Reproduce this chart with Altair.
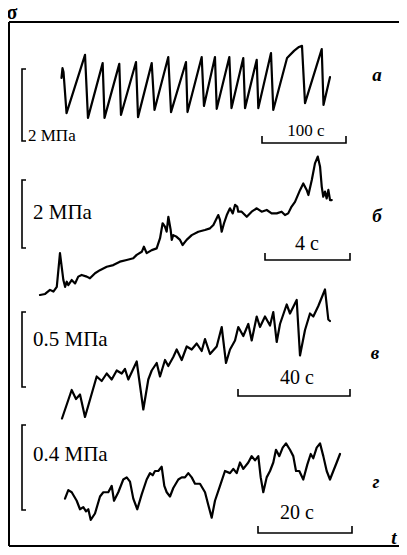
import altair as alt
import pandas as pd

# ---------------- data (t in seconds from trace start, sigma in MPa above trace minimum) ----------------
# trace "а" (sawtooth, 100 s scale)
t_a = [0, 1.2, 2.4, 6.0, 28.0, 31.5, 49.0, 51.2, 68.8, 70.8, 88.7, 91.1, 107.4, 110.7, 127.1, 130.4,
       148.2, 150.0, 166.9, 169.6, 182.7, 184.8, 199.8, 202.4, 216.4, 218.5, 232.4, 234.3, 249.4, 252.1,
       268.5, 276.8, 282.7, 286.3, 289.9, 309.8, 311.9, 319.6]
s_a = [1.17, 1.44, 1.33, 0.19, 1.81, 0.06, 1.58, 0.06, 1.56, 0.14, 1.61, 0.08, 1.58, 0.28, 1.75, 0.22,
       1.61, 0.22, 1.75, 0.39, 1.75, 0.31, 1.75, 0.33, 1.72, 0.33, 1.67, 0.33, 1.86, 0.28,
       1.72, 1.92, 2.03, 2.06, 0.47, 1.97, 0.42, 1.19]

# trace "б" (4 s scale)
t_b = [0, 0.24, 0.47, 0.63, 0.79, 0.94, 1.10, 1.18, 1.26, 1.33, 1.49, 1.65, 1.80, 1.96, 2.20, 2.35,
       2.59, 2.82, 3.14, 3.45, 3.76, 4.08, 4.39, 4.55, 4.79, 4.89, 5.02, 5.26, 5.49, 5.65, 5.77, 5.88,
       5.96, 6.04, 6.15, 6.20, 6.27, 6.43, 6.59, 6.71, 6.90, 7.14, 7.45, 7.76, 8.00, 8.16, 8.28, 8.39,
       8.47, 8.55, 8.66, 8.79, 8.94, 9.07, 9.18, 9.28, 9.33, 9.49, 9.73, 9.96, 10.20, 10.43, 10.67,
       10.90, 11.14, 11.37, 11.53, 11.68, 11.84, 12.00, 12.24, 12.39, 12.55, 12.63, 12.79, 12.94, 13.07,
       13.18, 13.26, 13.33, 13.41, 13.49, 13.57, 13.65, 13.73]
s_b = [0.03, 0.06, 0.18, 0.13, 0.27, 1.26, 0.47, 0.27, 0.42, 0.32, 0.47, 0.37, 0.57, 0.62, 0.57, 0.52,
       0.67, 0.76, 0.86, 0.91, 1.01, 1.06, 1.11, 1.21, 1.30, 1.45, 1.26, 1.35, 1.40, 1.70, 2.14, 2.04,
       1.89, 2.33, 1.94, 1.65, 1.79, 1.74, 1.65, 1.50, 1.65, 1.79, 1.89, 1.94, 1.99, 2.09, 2.24, 2.38,
       2.24, 1.89, 2.14, 2.38, 2.58, 2.43, 2.68, 2.63, 2.48, 2.48, 2.33, 2.48, 2.58, 2.48, 2.53,
       2.43, 2.43, 2.48, 2.38, 2.43, 2.63, 2.77, 3.12, 3.31, 3.12, 2.97, 3.41, 3.90, 4.10,
       3.80, 3.21, 2.92, 3.07, 2.87, 3.12, 2.82, 2.82]

# trace "в" (40 s scale)
t_v = [0, 3.46, 5.0, 6.43, 8.21, 12.39, 14.18, 15.96, 17.75, 19.54, 21.32, 22.5, 23.68, 26.68, 29.04,
       30.82, 32.04, 33.82, 35.0, 36.79, 37.96, 39.75, 40.96, 42.75, 44.54, 46.32, 48.11, 49.89, 51.07,
       52.86, 55.25, 57.04, 58.57, 60.0, 61.79, 62.96, 64.75, 66.54, 67.75, 69.54, 70.71, 72.5, 74.29,
       75.46, 76.68, 77.86, 80.25, 81.43, 83.82, 85.0, 86.79, 88.57, 89.75, 91.54, 93.93, 95.11, 95.71]
s_v = [0.01, 0.20, 0.14, 0.17, 0.02, 0.29, 0.26, 0.31, 0.27, 0.33, 0.31, 0.34, 0.27, 0.39, 0.07,
       0.27, 0.33, 0.38, 0.29, 0.40, 0.36, 0.42, 0.47, 0.40, 0.49, 0.47, 0.51, 0.46, 0.54,
       0.44, 0.49, 0.62, 0.38, 0.47, 0.53, 0.62, 0.56, 0.64, 0.53, 0.69, 0.62, 0.69, 0.63,
       0.72, 0.52, 0.64, 0.77, 0.71, 0.80, 0.43, 0.60, 0.71, 0.69, 0.76, 0.87, 0.67, 0.66]

# trace "г" (20 s scale)
t_g = [0, 0.70, 1.43, 2.49, 3.19, 3.89, 4.47, 4.96, 5.47, 6.38, 7.45, 8.15, 9.21, 9.94, 10.43, 11.34,
       12.40, 13.13, 13.83, 14.53, 15.38, 16.32, 17.38, 18.09, 18.66, 19.15, 19.85, 20.57, 21.13, 21.64,
       22.34, 23.04, 24.11, 24.83, 25.53, 26.23, 26.96, 27.66, 28.72, 29.79, 30.49, 31.21, 31.91, 32.98,
       34.04, 35.11, 35.81, 36.53, 37.23, 37.94, 39.0, 39.72, 40.43, 41.13, 41.64, 42.19, 42.91, 43.62,
       44.32, 44.89, 45.6, 46.32, 47.02, 47.87, 48.57, 49.15, 49.85, 50.70, 51.55, 52.28, 52.83, 53.55,
       54.26, 54.96, 55.68, 56.38, 57.09, 57.81, 58.51]
s_g = [0.11, 0.15, 0.14, 0.10, 0.06, 0.07, 0.05, 0.06, 0.01, 0.04, 0.12, 0.14, 0.14, 0.17, 0.10, 0.14,
       0.20, 0.21, 0.19, 0.11, 0.06, 0.13, 0.20, 0.23, 0.22, 0.24, 0.24, 0.26, 0.17, 0.14,
       0.12, 0.16, 0.20, 0.21, 0.21, 0.23, 0.21, 0.18, 0.18, 0.14, 0.08, 0.02, 0.10, 0.17,
       0.24, 0.23, 0.25, 0.23, 0.28, 0.25, 0.28, 0.31, 0.29, 0.31, 0.21, 0.14, 0.21, 0.24,
       0.28, 0.34, 0.31, 0.35, 0.37, 0.34, 0.31, 0.24, 0.24, 0.20, 0.27, 0.32, 0.30, 0.35,
       0.37, 0.31, 0.24, 0.20, 0.24, 0.28, 0.32]

panel_letters = ["а", "б", "в", "г"]
stress_labels = ["2 МПа", "2 МПа", "0.5 МПа", "0.4 МПа"]
stress_bars = [2, 2, 0.5, 0.4]          # MPa
time_labels = ["100 с", "4 с", "40 с", "20 с"]
time_bars = [100, 4, 40, 20]            # s

# ---------------- layout (figure pixel frame; drawable page area is 8..399 x 8..547) ----------------
W = 399 - 8
H = 547 - 8
xs = alt.Scale(domain=[8, 399], nice=False, zero=False)
ys = alt.Scale(domain=[8, 547], nice=False, zero=False, reverse=True)

# per panel: x origin, px per s, y baseline, px per MPa, and annotation placement
panels = [
    dict(x0=61.5, kx=0.84, yb=120, ky=36, t=t_a, s=s_a, bar_x=262, bar_y=143, br_y=141,
         lab_fs=17, lab_x=28, lab_y=136, tl_x=306, tl_y=131, tl_fs=17, let_x=377, let_y=75),
    dict(x0=40, kx=21.25, yb=296, ky=34, t=t_b, s=s_b, bar_x=265, bar_y=260, br_y=248,
         lab_fs=21, lab_x=33, lab_y=213, tl_x=307, tl_y=244, tl_fs=20, let_x=377, let_y=216),
    dict(x0=62, kx=2.8, yb=420, ky=150, t=t_v, s=s_v, bar_x=238, bar_y=396, br_y=387,
         lab_fs=21, lab_x=33, lab_y=340, tl_x=297, tl_y=378, tl_fs=20, let_x=375, let_y=353),
    dict(x0=65, kx=4.7, yb=522, ky=212.5, t=t_g, s=s_g, bar_x=258, bar_y=533, br_y=510,
         lab_fs=21, lab_x=33, lab_y=455, tl_x=297, tl_y=513, tl_fs=20, let_x=376, let_y=482),
]


def enc_xy(**extra):
    return dict(x=alt.X("fx:Q", scale=xs, axis=None), y=alt.Y("fy:Q", scale=ys, axis=None), **extra)


layers = []

# frame (left, top, bottom)
frame = pd.DataFrame({"fx": [9, 9, 9], "fy": [22, 22, 546], "fx2": [9, 399, 399], "fy2": [546, 22, 546]})
layers.append(
    alt.Chart(frame).mark_rule(color="black", strokeWidth=2).encode(
        x=alt.X("fx:Q", scale=xs, axis=None), y=alt.Y("fy:Q", scale=ys, axis=None), x2="fx2:Q", y2="fy2:Q"
    )
)

for k, p in enumerate(panels):
    df = pd.DataFrame({"t": p["t"], "s": p["s"], "i": range(len(p["t"]))})
    layers.append(
        alt.Chart(df)
        .transform_calculate(fx=f"{p['x0']} + datum.t * {p['kx']}", fy=f"{p['yb']} - datum.s * {p['ky']}")
        .mark_line(color="black", strokeWidth=2.2, strokeJoin="round", strokeCap="round")
        .encode(**enc_xy(order="i:Q"))
    )
    # time scale bar |____|
    L = time_bars[k] * p["kx"]
    bx, by = p["bar_x"], p["bar_y"]
    tb = pd.DataFrame({"fx": [bx, bx, bx + L, bx + L], "fy": [by - 7, by, by, by - 7], "i": [0, 1, 2, 3]})
    layers.append(alt.Chart(tb).mark_line(color="black", strokeWidth=1.6).encode(**enc_xy(order="i:Q")))
    # stress scale bracket [
    Hs = stress_bars[k] * p["ky"]
    ry = p["br_y"]
    sb = pd.DataFrame({"fx": [26, 22, 22, 26], "fy": [ry - Hs, ry - Hs, ry, ry], "i": [0, 1, 2, 3]})
    layers.append(alt.Chart(sb).mark_line(color="black", strokeWidth=1.6).encode(**enc_xy(order="i:Q")))
    # labels
    layers.append(
        alt.Chart(pd.DataFrame({"fx": [p["lab_x"]], "fy": [p["lab_y"]], "label": [stress_labels[k]]}))
        .mark_text(font="Liberation Serif", fontSize=p["lab_fs"], align="left", baseline="middle", color="black")
        .encode(**enc_xy(text="label:N"))
    )
    layers.append(
        alt.Chart(pd.DataFrame({"fx": [p["tl_x"]], "fy": [p["tl_y"]], "label": [time_labels[k]]}))
        .mark_text(font="Liberation Serif", fontSize=p["tl_fs"], align="center", baseline="middle", color="black")
        .encode(**enc_xy(text="label:N"))
    )
    layers.append(
        alt.Chart(pd.DataFrame({"fx": [p["let_x"]], "fy": [p["let_y"]], "label": [panel_letters[k]]}))
        .mark_text(font="Liberation Serif", fontSize=19, fontStyle="italic", fontWeight="bold",
                   align="center", baseline="middle", color="black")
        .encode(**enc_xy(text="label:N"))
    )

# axis symbols
layers.append(
    alt.Chart(pd.DataFrame({"fx": [12], "fy": [19], "label": ["σ"]}))
    .mark_text(font="Liberation Serif", fontSize=20, fontWeight="bold", align="center", baseline="alphabetic",
               color="black")
    .encode(**enc_xy(text="label:N"))
)
layers.append(
    alt.Chart(pd.DataFrame({"fx": [394], "fy": [538], "label": ["t"]}))
    .mark_text(font="Liberation Serif", fontSize=19, fontStyle="italic", fontWeight="bold",
               align="center", baseline="middle", color="black")
    .encode(**enc_xy(text="label:N"))
)

chart = (
    alt.layer(*layers)
    .properties(width=W, height=H, padding=0,
                autosize=alt.AutoSizeParams(type="none"), background="white")
    .configure_view(stroke=None)
)

chart.save("out.html", embed_options={"renderer": "svg", "actions": False})
